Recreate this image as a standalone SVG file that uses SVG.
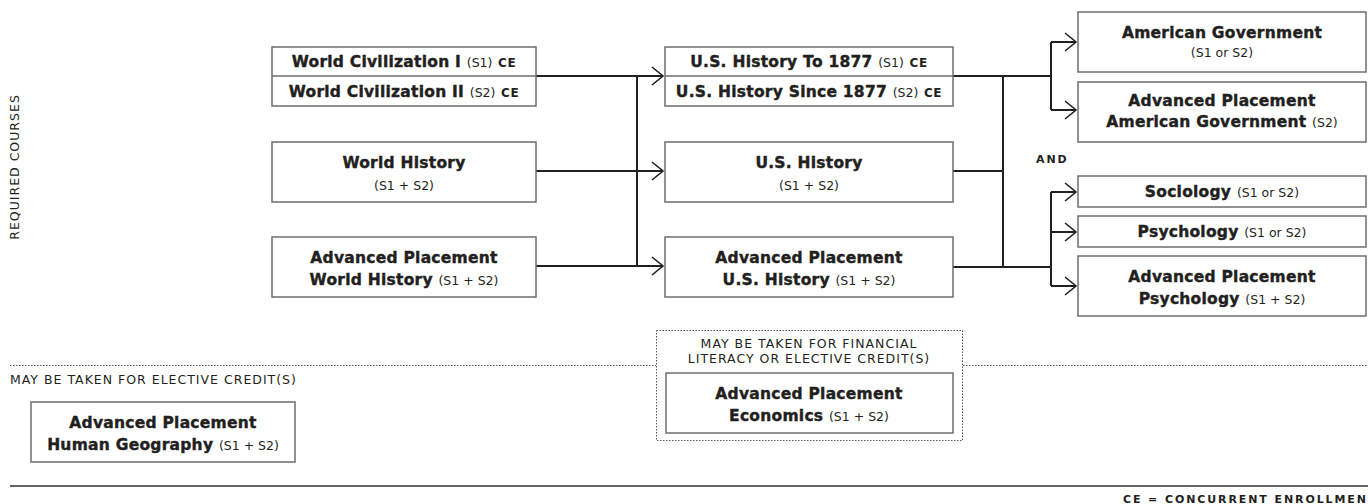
<svg xmlns="http://www.w3.org/2000/svg" width="1368" height="504" viewBox="0 0 1368 504">
<defs>
<style>
.box{fill:#fff;stroke:#6d6e70;stroke-width:1.5}
.div{stroke:#6d6e70;stroke-width:1.5}
.t{font-family:"DejaVu Sans",sans-serif;font-weight:bold;font-size:15.5px;letter-spacing:0.25px;fill:#231f20;stroke:#231f20;stroke-width:0.4;text-anchor:middle}
.s{font-weight:normal;font-size:12.5px;letter-spacing:0;stroke:none}
.ce{font-weight:bold;font-size:12px;letter-spacing:0.6px;stroke:none}
.lbl{font-family:"DejaVu Sans",sans-serif;font-size:12.5px;fill:#231f20;letter-spacing:1px}
.bl{font-family:"DejaVu Sans",sans-serif;font-weight:bold;font-size:11px;fill:#231f20;letter-spacing:1.9px}
.c{fill:none;stroke:#231f20;stroke-width:2}
.dot{fill:none;stroke:#555;stroke-width:1;stroke-dasharray:1.5 1.5}
</style>
<marker id="arr" markerUnits="userSpaceOnUse" markerWidth="16" markerHeight="22" refX="13" refY="10" orient="auto" viewBox="0 0 16 22">
<path d="M2,1 L13,10 L2,19" fill="none" stroke="#231f20" stroke-width="1.6"/>
</marker>
</defs>
<rect width="1368" height="504" fill="#fff"/>

<text class="lbl" transform="translate(19,167) rotate(-90)" text-anchor="middle">REQUIRED COURSES</text>

<g id="connectors">
<path class="c" d="M536,76 H663" marker-end="url(#arr)"/>
<path class="c" d="M536,171 H663" marker-end="url(#arr)"/>
<path class="c" d="M536,266 H663" marker-end="url(#arr)"/>
<path class="c" d="M637,76 V266"/>
<path class="c" d="M953,76 H1003 M953,171 H1003 M953,267 H1003 M1003,76 V267"/>
<path class="c" d="M1003,76 H1051 M1051,42 V110"/>
<path class="c" d="M1051,42 H1076" marker-end="url(#arr)"/>
<path class="c" d="M1051,110 H1076" marker-end="url(#arr)"/>
<path class="c" d="M1003,267 H1051 M1051,192 V286"/>
<path class="c" d="M1051,192 H1076" marker-end="url(#arr)"/>
<path class="c" d="M1051,232 H1076" marker-end="url(#arr)"/>
<path class="c" d="M1051,286 H1076" marker-end="url(#arr)"/>
</g>

<g id="world-civ">
<rect class="box" x="272" y="47" width="264" height="59"/>
<line class="div" x1="272" y1="76" x2="536" y2="76"/>
<text class="t" x="404" y="67">World Civilization I <tspan class="s">(S1)</tspan> <tspan class="ce">CE</tspan></text>
<text class="t" x="404" y="97">World Civilization II <tspan class="s">(S2)</tspan> <tspan class="ce">CE</tspan></text>
</g>

<g id="world-history">
<rect class="box" x="272" y="142" width="264" height="60"/>
<text class="t" x="404" y="168">World History</text>
<text class="t s" x="404" y="190">(S1 + S2)</text>
</g>

<g id="ap-world-history">
<rect class="box" x="272" y="237" width="264" height="60"/>
<text class="t" x="404" y="263">Advanced Placement</text>
<text class="t" x="404" y="285">World History <tspan class="s">(S1 + S2)</tspan></text>
</g>

<g id="us-history-ce">
<rect class="box" x="665" y="47" width="288" height="59"/>
<line class="div" x1="665" y1="76" x2="953" y2="76"/>
<text class="t" x="809" y="67">U.S. History To 1877 <tspan class="s">(S1)</tspan> <tspan class="ce">CE</tspan></text>
<text class="t" x="809" y="97">U.S. History Since 1877 <tspan class="s">(S2)</tspan> <tspan class="ce">CE</tspan></text>
</g>

<g id="us-history">
<rect class="box" x="665" y="142" width="288" height="60"/>
<text class="t" x="809" y="168">U.S. History</text>
<text class="t s" x="809" y="190">(S1 + S2)</text>
</g>

<g id="ap-us-history">
<rect class="box" x="665" y="237" width="288" height="60"/>
<text class="t" x="809" y="263">Advanced Placement</text>
<text class="t" x="809" y="285">U.S. History <tspan class="s">(S1 + S2)</tspan></text>
</g>

<g id="american-government">
<rect class="box" x="1078" y="12" width="288" height="60"/>
<text class="t" x="1222" y="38">American Government</text>
<text class="t s" x="1222" y="57">(S1 or S2)</text>
</g>

<g id="ap-american-government">
<rect class="box" x="1078" y="82" width="288" height="60"/>
<text class="t" x="1222" y="106">Advanced Placement</text>
<text class="t" x="1222" y="127">American Government <tspan class="s">(S2)</tspan></text>
</g>

<text class="bl" x="1036" y="163" letter-spacing="1">AND</text>

<g id="sociology">
<rect class="box" x="1078" y="176" width="288" height="31"/>
<text class="t" x="1222" y="197">Sociology <tspan class="s">(S1 or S2)</tspan></text>
</g>

<g id="psychology">
<rect class="box" x="1078" y="216" width="288" height="31"/>
<text class="t" x="1222" y="237">Psychology <tspan class="s">(S1 or S2)</tspan></text>
</g>

<g id="ap-psychology">
<rect class="box" x="1078" y="256" width="288" height="60"/>
<text class="t" x="1222" y="282">Advanced Placement</text>
<text class="t" x="1222" y="304">Psychology <tspan class="s">(S1 + S2)</tspan></text>
</g>

<path class="dot" d="M10,365.5 H656 M963,365.5 H1368"/>
<text class="lbl" x="10" y="384">MAY BE TAKEN FOR ELECTIVE CREDIT(S)</text>

<g id="ap-human-geography">
<rect class="box" x="31" y="402" width="264" height="60"/>
<text class="t" x="163" y="428">Advanced Placement</text>
<text class="t" x="163" y="450">Human Geography <tspan class="s">(S1 + S2)</tspan></text>
</g>

<g id="ap-economics">
<rect class="dot" x="656.5" y="330.5" width="306" height="110"/>
<text class="lbl" x="809" y="348" text-anchor="middle">MAY BE TAKEN FOR FINANCIAL</text>
<text class="lbl" x="809" y="363" text-anchor="middle">LITERACY OR ELECTIVE CREDIT(S)</text>
<rect class="box" x="666" y="373" width="287" height="60"/>
<text class="t" x="809" y="399">Advanced Placement</text>
<text class="t" x="809" y="421">Economics <tspan class="s">(S1 + S2)</tspan></text>
</g>

<line x1="10" y1="486" x2="1368" y2="486" stroke="#333" stroke-width="1.5"/>
<text class="bl" x="1123" y="503">CE = CONCURRENT ENROLLMEN</text>
</svg>
